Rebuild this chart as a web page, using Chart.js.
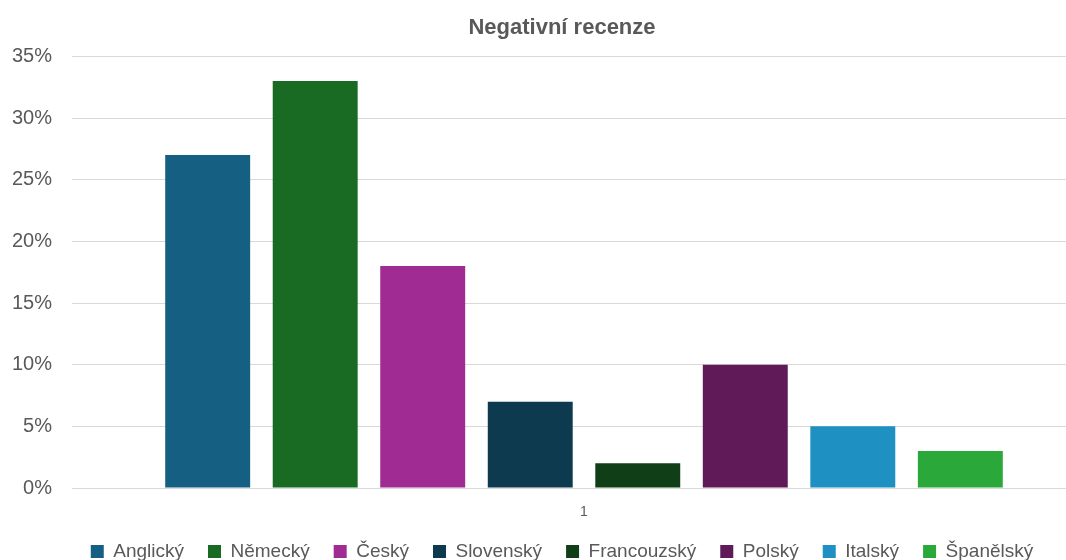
<!DOCTYPE html>
<html>
<head>
<meta charset="utf-8">
<script src="https://cdn.jsdelivr.net/npm/chart.js@4/dist/chart.umd.min.js"></script>
<style>
  html, body { margin: 0; padding: 0; background: #fff; }
  #wrap { width: 1066px; height: 560px; overflow: hidden; position: relative; }
  #box { width: 1124px; height: 566px; position: absolute; left: 0; top: 0; }
</style>
</head>
<body>
<div id="wrap"><div id="box"><canvas id="myChart"></canvas></div></div>
<script>
var categories = ["1"];
var languages = ["Anglický", "Německý", "Český", "Slovenský", "Francouzský", "Polský", "Italský", "Španělský"];
// share of negative reviews per language, in percent
var negative = [27, 33, 18, 7, 2, 10, 5, 3];
var colors = ["#156082", "#196b24", "#a02b93", "#0e3a50", "#103f17", "#5f1a57", "#1f90c2", "#2aa83a"];
var yTicks = [0, 5, 10, 15, 20, 25, 30, 35];

var grey = "#595959";
var fontFamily = "'Liberation Sans', Arial, sans-serif";

var datasets = languages.map(function(name, i) {
  return {
    label: name,
    data: [negative[i]],
    backgroundColor: colors[i],
    borderWidth: 0,
    categoryPercentage: 0.84,
    barPercentage: 0.79
  };
});

// nudge title and legend so they sit centred on the whole frame, not the padded box
var shiftBlocks = {
  id: "shiftBlocks",
  afterLayout: function(chart) {
    chart.titleBlock.left += 16;
    chart.legend.left += 16;
  }
};

var ctx = document.getElementById("myChart");
var myChart = new Chart(ctx, {
  type: "bar",
  data: {
    labels: categories,
    datasets: datasets
  },
  plugins: [shiftBlocks],
  options: {
    responsive: true,
    maintainAspectRatio: false,
    animation: false,
    layout: { padding: { left: 12, right: 28, top: 0, bottom: 0 } },
    plugins: {
      title: {
        display: true,
        text: "Negativní recenze",
        color: grey,
        font: { family: fontFamily, size: 22, weight: "bold" },
        padding: { top: 15, bottom: 15 }
      },
      legend: {
        position: "bottom",
        maxHeight: 48,
        labels: {
          color: grey,
          boxWidth: 13,
          boxHeight: 13,
          padding: 24,
          font: { family: fontFamily, size: 19 }
        }
      },
      tooltip: { enabled: false }
    },
    scales: {
      x: {
        afterFit: function(scale) { scale.height = 30; },
        grid: { display: false },
        border: { color: "#d9d9d9" },
        ticks: {
          color: grey,
          padding: 8,
          font: { family: fontFamily, size: 14 }
        }
      },
      y: {
        min: 0,
        max: 35,
        afterFit: function(scale) { scale.width = 60; },
        afterBuildTicks: function(scale) {
          scale.ticks = yTicks.map(function(v) { return { value: v }; });
        },
        grid: { color: "#d9d9d9", lineWidth: 1, drawTicks: false },
        border: { display: false },
        ticks: {
          color: grey,
          padding: 20,
          font: { family: fontFamily, size: 20 },
          callback: function(v) { return v + "%"; }
        }
      }
    }
  }
});
</script>
</body>
</html>
